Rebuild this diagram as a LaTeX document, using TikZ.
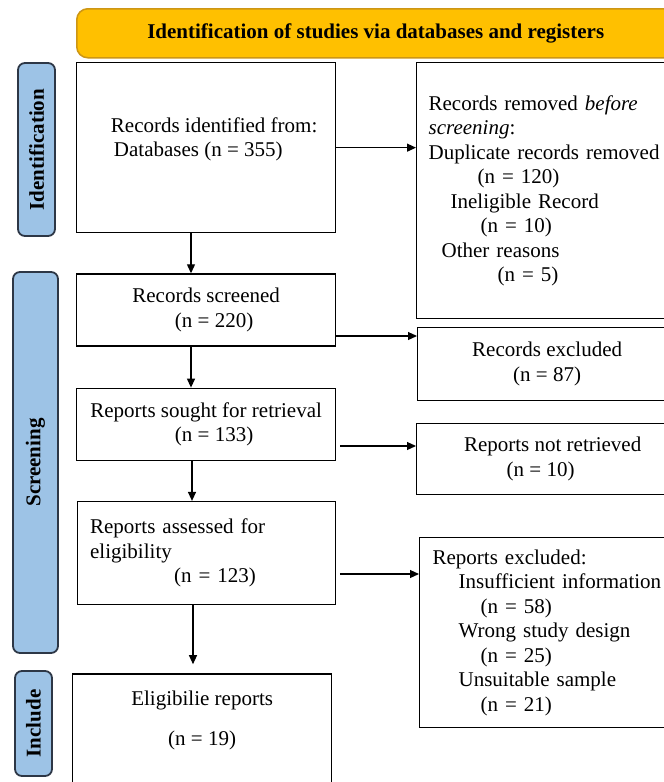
\documentclass[tikz,border=0pt]{standalone}
\usepackage{fontspec}
\setmainfont{Liberation Serif}
\usetikzlibrary{arrows.meta, positioning}
\definecolor{bannergold}{RGB}{255,192,0}
\definecolor{bannerline}{RGB}{205,150,20}
\definecolor{phaseblue}{RGB}{157,195,230}
\definecolor{phaseline}{RGB}{45,55,70}

\begin{document}
\begin{tikzpicture}[x=1pt, y=-1pt,
    node distance=40pt,
    box/.style={draw, line width=1.3pt, inner sep=0pt, minimum width=259pt,
                font=\fontsize{21}{24.5}\selectfont, align=center},
    sidebox/.style={box, anchor=north west, inner xsep=12pt, text width=240pt, align=left},
    phase/.style={draw=phaseline, fill=phaseblue, line width=1.8pt, rounded corners=7pt,
                  rotate=90, inner sep=0pt, font=\bfseries\fontsize{21}{24}\selectfont},
    banner/.style={draw=bannerline, fill=bannergold, line width=1.5pt, rounded corners=11pt,
                   anchor=north west, minimum width=598pt, minimum height=49pt,
                   font=\bfseries\fontsize{21}{24}\selectfont},
    arr/.style={-{Triangle[length=9pt, width=8pt]}, line width=1.2pt}
  ]
  \useasboundingbox (0,0) rectangle (664,782);

  \node[banner] (title) at (76,8) {Identification of studies via databases and registers};

  \node[phase, minimum width=173pt, minimum height=37pt] (idphase) at (36.5,149.5) {Identification};
  \node[phase, minimum width=381pt, minimum height=45pt] (scphase) at (35.5,462.5) {Screening};
  \node[phase, minimum width=105pt, minimum height=37pt] (inphase) at (33.5,723.5) {Include};

  \node[box, anchor=north west, minimum height=170pt, align=left, text depth=21pt] (identified) at (76,62)
    {\hspace*{16pt}Records identified from:\\\hspace*{19pt}Databases (n = 355)};
  \node[box, below=of identified, minimum height=72pt] (screened)
    {Records screened\\\hspace*{16pt}(n = 220)};
  \node[box, below=41pt of screened, minimum height=72pt] (sought)
    {Reports sought for retrieval\\\hspace*{16pt}(n = 133)};
  \node[box, below=of sought, minimum width=258pt, minimum height=103pt,
        text width=232pt, align=left] (assessed)
    {Reports assessed for\\eligibility\\\hspace*{84pt}(n = 123)};
  \node[box, below=68pt of assessed, xshift=-4pt, minimum height=118pt, text depth=29pt] (eligible)
    {Eligibilie reports\\[15pt](n = 19)};

  \node[sidebox, minimum height=256pt] (removed) at (416,62)
    {Records removed \textit{before}\\\textit{screening}:\\Duplicate records removed\\
     \hspace*{49pt}(n = 120)\\\hspace*{22pt}Ineligible Record\\\hspace*{52pt}(n = 10)\\
     \hspace*{13pt}Other reasons\\\hspace*{69pt}(n = 5)};
  \node[box, anchor=north west, minimum height=73pt] (recexcl) at (417,327)
    {Records excluded\\(n = 87)};
  \node[box, anchor=north west, minimum width=272pt, minimum height=71pt] (notretr) at (416,423)
    {Reports not retrieved\\\hspace*{-24pt}(n = 10)};
  \node[sidebox, minimum height=190pt, inner xsep=13pt] (repexcl) at (419,537)
    {Reports excluded:\\\hspace*{26pt}Insufficient information\\\hspace*{48pt}(n = 58)\\
     \hspace*{26pt}Wrong study design\\\hspace*{48pt}(n = 25)\\
     \hspace*{26pt}Unsuitable sample\\\hspace*{48pt}(n = 21)};

  \draw[arr] (identified.east) -- (removed.west |- identified.east);
  \draw[arr] (screened.east |- 0,336) -- (recexcl.west |- 0,336);
  \draw[arr] ([xshift=4pt]sought.east |- 0,446) -- (notretr.west |- 0,446);
  \draw[arr] ([xshift=4pt]assessed.east |- 0,574) -- (repexcl.west |- 0,574);

  \draw[arr] (identified.south -| 191,0) -- (screened.north -| 191,0);
  \draw[arr] (screened.south -| 191,0) -- (sought.north -| 191,0);
  \draw[arr] (sought.south -| 192,0) -- (assessed.north -| 192,0);
  \draw[arr] (assessed.south -| 193,0) -- ([yshift=9pt]eligible.north -| 193,0);
\end{tikzpicture}
\end{document}
